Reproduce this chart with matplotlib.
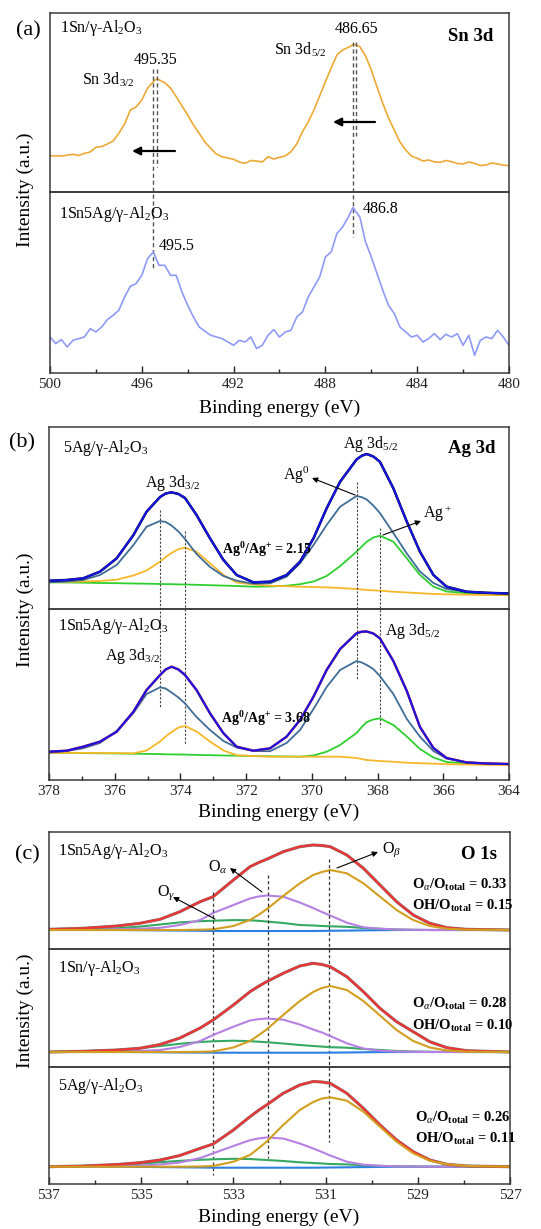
"""XPS Sn 3d / Ag 3d / O 1s stacked spectra."""

import matplotlib

matplotlib.use("Agg")
import matplotlib.pyplot as plt  # noqa: E402
from matplotlib.ticker import FormatStrFormatter, MultipleLocator  # noqa: E402

W, H = 541, 1229

plt.rcParams["font.family"] = ["Liberation Serif", "DejaVu Serif"]
plt.rcParams["mathtext.fontset"] = "custom"
plt.rcParams["mathtext.rm"] = "Liberation Serif"
plt.rcParams["mathtext.it"] = "Liberation Serif:italic"
plt.rcParams["mathtext.bf"] = "Liberation Serif:bold"

# ---------------- panel (a): Sn 3d ----------------
sn_ticks = [500, 496, 492, 488, 484, 480]
sn_top_be = [500, 499.5, 499, 498.75, 498.5, 498.25, 498, 497.75, 497.5, 497.25, 497, 496.75,
             496.5, 496.25, 496, 495.75, 495.5, 495.35, 495, 494.75, 494.5, 494.25, 494, 493.75,
             493.5, 493.25, 493, 492.75, 492.5, 492, 491.75, 491.5, 491.25, 491, 490.75, 490.5,
             490.25, 490, 489.75, 489.5, 489.25, 489, 488.75, 488.5, 488.25, 488, 487.75, 487.5,
             487.25, 487, 486.75, 486.5, 486.25, 486, 485.75, 485.5, 485.25, 485, 484.75, 484.5,
             484.25, 484, 483.75, 483.5, 483.25, 483, 482.75, 482.5, 482.25, 482, 481.75, 481.5,
             481.25, 481, 480.75, 480.5, 480.25, 480]
sn_top_int = [36.3, 36, 37.7, 36.5, 38.7, 40, 44.7, 45.5, 48, 51, 58.7, 68,
              82, 85, 92, 103.7, 110.3, 113.3, 109.3, 104, 95.3, 86, 77, 67,
              58.7, 50, 43.7, 38, 35.3, 32.7, 30, 28.7, 31.5, 31, 30, 35.3,
              33, 34.7, 36, 40.3, 48, 60.3, 70, 82, 96, 110.3, 124, 137,
              142, 144.7, 147.7, 145.3, 136, 122, 105, 88.7, 74, 62, 50, 42,
              36, 33.7, 31, 32, 30, 29.7, 31.5, 30.3, 28.5, 28, 30, 28.7,
              26.5, 27, 29, 28, 27, 26.3]

sn_bot_be = [500, 499.75, 499.5, 499.25, 499, 498.5, 498.25, 498, 497.75, 497.5, 497.25, 497,
             496.75, 496.5, 496.25, 496, 495.75, 495.5, 495.25, 495, 494.75, 494.5, 494.25, 494,
             493.75, 493.5, 493, 492.5, 492, 491.75, 491.5, 491.25, 491, 490.75, 490.5, 490.25,
             490, 489.75, 489.5, 489.25, 489, 488.75, 488.5, 488.25, 488, 487.75, 487.5, 487.25,
             487, 486.8, 486.5, 486.25, 486, 485.75, 485.5, 485.25, 485, 484.75, 484.5, 484.25,
             484, 483.75, 483.5, 483.25, 483, 482.75, 482.5, 482.25, 482, 481.75, 481.5, 481.25,
             481, 480.75, 480.5, 480.25, 480]
sn_bot_int = [36, 29.4, 33.4, 26, 32.7, 36, 44.4, 41, 46, 53.4, 57.7, 62.7,
              76, 86.7, 89.4, 97.7, 114.4, 121, 107.7, 107.7, 97.7, 97.7, 81, 67.7,
              56, 46, 37.7, 34.4, 27.7, 32.7, 31, 36, 24.4, 27.7, 37.7, 43.4,
              36, 41, 42.7, 56, 61, 76, 86, 96, 116, 121, 139.4, 146,
              156, 165.4, 156, 131, 116, 99.4, 82.7, 67.7, 59.4, 46, 41, 36,
              37.7, 31, 34.4, 39.4, 33.4, 38.7, 36, 39.4, 27.7, 37.7, 17.7, 32.7,
              36, 34.4, 42.7, 36, 27.7]

sn_peaks_top = [495.35, 486.65]
sn_peaks_bot = [495.5, 486.8]

# ---------------- panel (b): Ag 3d ----------------
ag_ticks = [378, 376, 374, 372, 370, 368, 366, 364]
ag_be = [378.0, 377.46, 376.96, 376.45, 375.94, 375.43, 375.03, 374.62, 374.45, 374.27, 374.06,
         373.86, 373.51, 373.10, 372.69, 372.29, 371.78, 371.27, 370.77, 370.36, 369.95, 369.55,
         369.14, 368.64, 368.48, 368.33, 368.13, 367.93, 367.52, 367.11, 366.71, 366.30, 365.90,
         365.29, 364.68, 364.0]

ag_top_env = [28.3, 29, 30.7, 37.3, 50.7, 74, 97.3, 112, 115.5, 116.7, 115, 111, 94, 70.7, 49,
              34, 26.7, 27.3, 34, 47.3, 70.7, 100.7, 127.3, 149.5, 153.3, 155, 152.5, 147.3,
              120.7, 87.3, 57.3, 34, 22.3, 17.3, 16.2, 15.5]
ag_top_ag0 = [26.7, 27.5, 29, 34, 44, 64, 82.3, 88, 87, 83.5, 77.5, 70, 55, 42, 33, 28.3, 25.3,
              25.7, 32.3, 45.7, 64, 84, 102.3, 113, 111.8, 109.5, 103.5, 96, 76, 55.5, 37.5, 26,
              20, 17, 16, 15.5]
ag_top_agp1 = [26.7, 27, 27.5, 28, 29.3, 33.5, 38.5, 47.3, 52, 56, 60, 61.3, 57.3, 45.7, 34,
               26.5, 24.5, 23.2, 22.8, 22.3, 22, 21.6, 21, 20, 19.5, 19, 18.7, 18.3, 17.3, 16.5,
               15.8, 15, 14.7, 14.3, 14, 13.8]
ag_top_agp2 = [26.7, 26.5, 26.3, 26, 25.8, 25.5, 25.3, 25, 24.9, 24.8, 24.6, 24.5, 24.2, 23.8,
               23.4, 23, 22.3, 22.5, 23.3, 24.8, 27.5, 33, 42.9, 57.3, 62.5, 67.3, 71.5, 73.3,
               67.3, 50.7, 34, 22.3, 17.5, 15.8, 15.3, 15]

ag_bot_env = [28.3, 29.3, 33.3, 38.3, 48.3, 68.3, 90, 105, 110.5, 113.3, 110.5, 105, 90, 66.7,
              46.7, 33.3, 29.3, 31.7, 43.3, 60, 83.3, 110, 131, 146.7, 148.3, 148.5, 146.5,
              141.7, 119, 89, 53, 32, 22, 17.5, 16.5, 16]
ag_bot_ag0 = [27.3, 29, 31.7, 37, 49, 67, 86, 92.7, 91.5, 87.5, 82.5, 76.5, 63, 50, 39, 32.5,
              29, 28.8, 37, 50, 71, 93, 110, 119, 117.5, 115, 111, 104, 86, 61, 43.3, 29, 21.5,
              17.8, 16.7, 16]
ag_bot_agp1 = [27.3, 27.2, 27.1, 27, 26.9, 26.7, 29.5, 38.5, 43.5, 48, 52.5, 54, 48.5, 38.5,
               29.5, 24.8, 24, 23.3, 23.3, 23.3, 23.3, 23.3, 23.3, 22, 21, 20, 19.5, 19, 18.2,
               17.3, 16.8, 16.3, 15.8, 15.5, 15.2, 15]
ag_bot_agp2 = [27.3, 27.1, 26.9, 26.7, 26.5, 26.3, 26.1, 25.9, 25.7, 25.6, 25.5, 25.4, 25.1,
               24.8, 24.5, 24.3, 24, 23.7, 23.5, 23.3, 24.5, 28.3, 35, 47, 53, 58, 60.5, 61.7,
               55, 43.5, 31, 22.5, 18, 16.5, 16.2, 16]

ag_peaks = [374.62, 373.86, 368.64, 367.93]

# ---------------- panel (c): O 1s ----------------
o_ticks = [537, 535, 533, 531, 529, 527]
o_be = [537.0, 536.26, 535.53, 535.03, 534.59, 534.16, 533.72, 533.44, 533.0, 532.64, 532.46,
        532.28, 531.92, 531.56, 531.27, 531.08, 530.9, 530.54, 530.18, 529.82, 529.46, 529.1,
        528.74, 528.37, 527.94, 527.0]

o_top_sum = [19.7, 20.7, 23, 25.7, 29.7, 37.3, 47.3, 52.3, 69, 82.3, 86.3, 89.7, 97.3, 102.3,
             104, 103.5, 102.3, 94, 80.7, 64, 47.3, 34, 25.7, 21.3, 19.7, 19]
o_top_beta = [19, 19, 19, 19, 19, 19, 19.3, 19.7, 23, 29, 34, 39.7, 53, 65.7, 74, 77, 79, 75.7,
              65.7, 52.3, 39, 29, 23, 20.3, 19.3, 19]
o_top_alpha = [19, 19.3, 19.8, 20.3, 21.2, 24, 29, 36, 44, 50.5, 52.5, 53.5, 52.3, 46.5, 41, 37,
               33.5, 26.3, 21.7, 20.3, 19.5, 19.2, 19, 19, 19, 19]
o_top_gamma = [19, 19.8, 20.7, 22.4, 24.5, 26.6, 27.8, 28.3, 28.9, 28.7, 28.2, 27.5, 26, 24,
               23.5, 23, 22.7, 22.2, 21, 20.2, 19.5, 19.2, 19, 19, 19, 19]
o_top_base = [19, 19, 19, 18.8, 18.6, 18.4, 18.2, 18, 18, 18, 18, 18, 18, 18, 18, 18.1, 18.2,
              18.4, 18.6, 18.8, 19, 19, 19, 19, 19, 19]

o_mid_sum = [15, 15.7, 17, 18.7, 22.5, 29, 39, 47, 62, 75.3, 80.5, 85.3, 93.7, 101, 103.7,
             102.5, 100.3, 90.3, 75.3, 58.7, 45.3, 35.3, 25.3, 19.3, 16.3, 15]
o_mid_beta = [15, 15, 15, 15, 15, 15, 15.2, 15.5, 19.5, 26, 31.5, 37.5, 52, 66, 75, 79, 81, 77,
              66, 51.5, 37, 26, 19.5, 16.5, 15.3, 15]
o_mid_alpha = [15, 15.2, 15.6, 16, 17, 20, 26, 32, 40.3, 46.5, 47.8, 48.5, 47.3, 42.5, 37.5,
               34.5, 31, 23.7, 18.5, 16.3, 15.5, 15.2, 15, 15, 15, 15]
o_mid_gamma = [15, 15.8, 17, 18.8, 21, 23.2, 25, 25.7, 26.3, 25.8, 25.3, 24.8, 23.5, 22, 21,
               20.4, 19.8, 19.3, 18, 17, 16, 15.5, 15.2, 15, 15, 15]
o_mid_base = [15, 15, 15, 14.9, 14.7, 14.5, 14.4, 14.3, 14.3, 14.3, 14.3, 14.3, 14.3, 14.3, 14.3,
              14.3, 14.4, 14.5, 14.7, 14.9, 15, 15, 15, 15, 15, 15]

o_bot_sum = [17.3, 18, 19.5, 21.3, 24, 28.5, 35.7, 40, 54, 67.3, 73.5, 79, 90.7, 99, 102.5, 102,
             100.7, 90.7, 75.7, 59, 44, 32.3, 24, 19.7, 18, 17.3]
o_bot_beta = [17.3, 17.3, 17.3, 17.3, 17.3, 17.3, 17.5, 18, 22.3, 29, 35.5, 42.3, 59, 74, 82,
              85.5, 86.7, 83.3, 72.3, 57.3, 42.3, 30.7, 23.3, 19.7, 18, 17.3]
o_bot_alpha = [17.3, 17.5, 18, 18.4, 19.5, 21.5, 26, 30.7, 38, 43.8, 45.5, 46.5, 45.5, 40.5,
               35.5, 32, 28.5, 22.3, 19.3, 18.2, 17.7, 17.5, 17.3, 17.3, 17.3, 17.3]
o_bot_gamma = [17.3, 18, 19, 20.2, 21.8, 23.2, 24.2, 24.7, 25.2, 25, 24.5, 24, 23, 21.7, 21,
               20.5, 20, 19.6, 18.8, 18.1, 17.7, 17.5, 17.3, 17.3, 17.3, 17.3]
o_bot_base = [17.3, 17.3, 17.3, 17.1, 16.9, 16.7, 16.5, 16.3, 16.3, 16.3, 16.3, 16.3, 16.3,
              16.3, 16.3, 16.4, 16.5, 16.7, 16.9, 17.1, 17.3, 17.3, 17.3, 17.3, 17.3, 17.3]

o_peaks = [533.44, 532.26, 530.92]
o_ratios = [("0.33", "0.15"), ("0.28", "0.10"), ("0.26", "0.11")]

samples_a = ["1Sn/γ-Al$_2$O$_3$", "1Sn5Ag/γ-Al$_2$O$_3$"]
samples_b = ["5Ag/γ-Al$_2$O$_3$", "1Sn5Ag/γ-Al$_2$O$_3$"]
samples_c = ["1Sn5Ag/γ-Al$_2$O$_3$", "1Sn/γ-Al$_2$O$_3$", "5Ag/γ-Al$_2$O$_3$"]
ag_ratios = ["2.15", "3.68"]

SPINE = "#3a3a3a"
fig = plt.figure(figsize=(W / 100, H / 100), dpi=100, facecolor="white")


def box(top, bottom, left, right):
    ax = fig.add_axes([left / W, 1 - bottom / H, (right - left) / W, (bottom - top) / H])
    ax.patch.set_visible(False)
    ax.set_ylim(0, bottom - top)
    ax.set_yticks([])
    for sp in ax.spines.values():
        sp.set_color(SPINE)
        sp.set_linewidth(1.1)
    ax.tick_params(axis="x", which="both", direction="in", top=False,
                   labelbottom=False, bottom=False)
    return ax


def bottom_axis(ax, ticks, minor):
    ax.tick_params(axis="x", which="both", bottom=True, labelbottom=True,
                   labelsize=11, colors="#222222")
    ax.tick_params(axis="x", which="major", length=5, width=1)
    ax.tick_params(axis="x", which="minor", length=3, width=1)
    ax.set_xticks(ticks)
    ax.xaxis.set_minor_locator(MultipleLocator(minor))
    ax.xaxis.set_major_formatter(FormatStrFormatter("%d"))


def text(x, y, s, **kw):
    kw.setdefault("fontsize", 11.5)
    kw.setdefault("va", "baseline")
    fig.text(x / W, 1 - y / H, s, **kw)


def arrow(x0, y0, x1, y1, lw=0.8, scale=8):
    fig.add_artist(matplotlib.patches.FancyArrowPatch(
        (x0, H - y0), (x1, H - y1), transform=None, arrowstyle="-|>",
        mutation_scale=scale, color="black", lw=lw, shrinkA=0, shrinkB=0))


def guide(ax, bottom_px, be, y0, y1, **kw):
    ax.plot([be, be], [bottom_px - y0, bottom_px - y1], clip_on=False, zorder=5, **kw)


# ---------- panel (a) ----------
a_top = box(13, 192, 50, 509)
a_bot = box(192, 373, 50, 509)
for ax in (a_top, a_bot):
    ax.set_xlim(500, 480)
bottom_axis(a_bot, sn_ticks, 2)
a_top.plot(sn_top_be, sn_top_int, color="#ECA935", lw=1.2)
a_bot.plot(sn_bot_be, sn_bot_int, color="#8E9AF6", lw=1.2)
dash_a = dict(color="#555555", lw=1.0, ls=(0, (3, 2)))
guide(a_top, 192, sn_peaks_bot[0], 69, 268, **dash_a)
guide(a_top, 192, sn_peaks_top[0], 69, 167, **dash_a)
guide(a_top, 192, sn_peaks_bot[1], 42, 237, **dash_a)
guide(a_top, 192, sn_peaks_top[1], 42, 136, **dash_a)
arrow(175, 151, 132, 151, lw=1.6, scale=12)
arrow(375, 122, 333, 122, lw=1.6, scale=12)

text(28, 35, "(a)", fontsize=16, ha="center")
text(60, 32, samples_a[0])
text(493, 41, "Sn 3d", fontsize=13.5, fontweight="bold", ha="right")
text(156, 64, f"{sn_peaks_top[0]:.2f}", ha="center")
text(82, 85, "Sn 3d$_{3/2}$")
text(357, 33, f"{sn_peaks_top[1]:.2f}", ha="center")
text(274, 55, "Sn 3d$_{5/2}$")
text(59, 218, samples_a[1])
text(159, 250, f"{sn_peaks_bot[0]:.1f}")
text(363, 213, f"{sn_peaks_bot[1]:.1f}")
text(279.5, 408, "Binding energy (eV)", fontsize=14, ha="center", va="center")
text(25, 190, "Intensity (a.u.)", fontsize=14, ha="center", va="center", rotation=90)

# ---------- panel (b) ----------
b_top = box(427, 609, 49, 509)
b_bot = box(609, 780, 49, 509)
for ax in (b_top, b_bot):
    ax.set_xlim(378, 364)
bottom_axis(b_bot, ag_ticks, 1)
for ax, env, ag0, agp1, agp2, raw in (
        (b_top, ag_top_env, ag_top_ag0, ag_top_agp1, ag_top_agp2, "black"),
        (b_bot, ag_bot_env, ag_bot_ag0, ag_bot_agp1, ag_bot_agp2, "#E8202A")):
    ax.plot(ag_be, agp2, color="#2ED02E", lw=1.3)
    ax.plot(ag_be, agp1, color="#F6B829", lw=1.3)
    ax.plot(ag_be, ag0, color="#3F6D98", lw=1.3)
    ax.plot(ag_be, env, color=raw, lw=1.8)
    ax.plot(ag_be, env, color="#1414E6", lw=1.5)
dot_b = dict(color="#444444", lw=0.8, ls=(0, (2, 1.5)))
guide(b_top, 609, ag_peaks[0], 510, 708, **dot_b)
guide(b_top, 609, ag_peaks[1], 531, 745, **dot_b)
guide(b_top, 609, ag_peaks[2], 482, 680, **dot_b)
guide(b_top, 609, ag_peaks[3], 528, 727, **dot_b)
arrow(355, 495, 312, 478)
arrow(383, 535, 421, 521)

text(22, 447, "(b)", fontsize=16, ha="center")
text(63, 452, samples_b[0])
text(495, 453, "Ag 3d", fontsize=13.5, fontweight="bold", ha="right")
text(343, 448, "Ag 3d$_{5/2}$")
text(145, 487, "Ag 3d$_{3/2}$")
text(283, 480, "Ag$^0$")
text(423, 518, "Ag$^+$")
text(222, 554, r"Ag$^{\mathbf{0}}$/Ag$^{\mathbf{+}}$ = " + ag_ratios[0], fontsize=10, fontweight="bold")
text(58, 630, samples_b[1])
text(105, 660, "Ag 3d$_{3/2}$")
text(385, 635, "Ag 3d$_{5/2}$")
text(221, 723, r"Ag$^{\mathbf{0}}$/Ag$^{\mathbf{+}}$ = " + ag_ratios[1], fontsize=10, fontweight="bold")
text(279, 812, "Binding energy (eV)", fontsize=14, ha="center", va="center")
text(25, 610, "Intensity (a.u.)", fontsize=14, ha="center", va="center", rotation=90)

# ---------- panel (c) ----------
c_top = box(832, 949, 49, 510)
c_mid = box(949, 1067, 49, 510)
c_bot = box(1067, 1184, 49, 510)
for ax in (c_top, c_mid, c_bot):
    ax.set_xlim(537, 527)
bottom_axis(c_bot, o_ticks, 1)
for ax, tot, beta, alpha, gamma, base in (
        (c_top, o_top_sum, o_top_beta, o_top_alpha, o_top_gamma, o_top_base),
        (c_mid, o_mid_sum, o_mid_beta, o_mid_alpha, o_mid_gamma, o_mid_base),
        (c_bot, o_bot_sum, o_bot_beta, o_bot_alpha, o_bot_gamma, o_bot_base)):
    ax.plot(o_be, base, color="#2C7FE2", lw=1.5)
    ax.plot(o_be, gamma, color="#35A862", lw=1.5)
    ax.plot(o_be, alpha, color="#B680E2", lw=1.5)
    ax.plot(o_be, tot, color="#777777", lw=2.2)
    ax.plot(o_be, tot, color="#EE3434", lw=1.6)
    ax.plot(o_be, beta, color="#D29E1E", lw=1.5)
dash_c = dict(color="#333333", lw=0.9, ls=(0, (2.5, 2)))
guide(c_top, 949, o_peaks[0], 892, 1175, **dash_c)
guide(c_top, 949, o_peaks[1], 875, 1158, **dash_c)
guide(c_top, 949, o_peaks[2], 859, 1142, **dash_c)
arrow(337, 868, 378, 852)
arrow(262, 892, 230, 868)
arrow(215, 919, 173, 897)

text(27, 859, "(c)", fontsize=16, ha="center")
text(497, 859, "O 1s", fontsize=13.5, fontweight="bold", ha="right")
text(382, 853, r"O$_\beta$")
text(208, 872, r"O$_\alpha$")
text(157, 896, r"O$_\gamma$")
for name, (y_name, y_r1, y_r2, x_r), (ra, rh) in zip(
        samples_c,
        [(855, 889, 910, 412), (972, 1008, 1030, 412), (1090, 1122, 1143, 415)],
        o_ratios):
    text(58, y_name, name)
    text(x_r, y_r1, r"O$_\alpha$/O$_{\mathbf{total}}$ = " + ra, fontsize=10.5, fontweight="bold")
    text(x_r, y_r2, r"OH/O$_{\mathbf{total}}$ = " + rh, fontsize=10.5, fontweight="bold")
text(279, 1217, "Binding energy (eV)", fontsize=14, ha="center", va="center")
text(25, 1011, "Intensity (a.u.)", fontsize=14, ha="center", va="center", rotation=90)

fig.savefig("out.png", dpi=100, facecolor="white")
